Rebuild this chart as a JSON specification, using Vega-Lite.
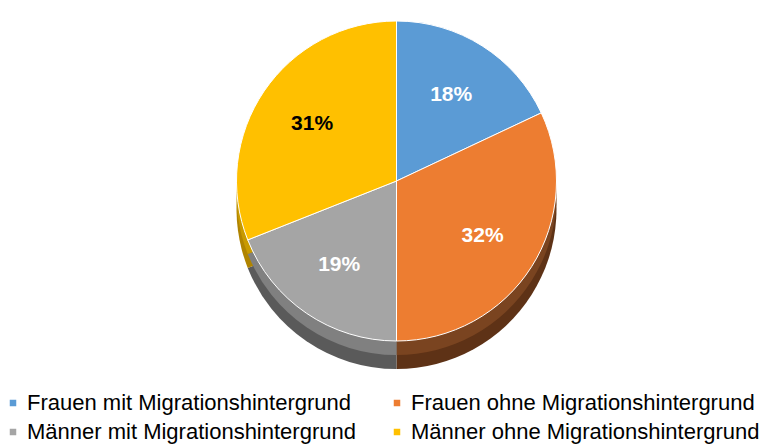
{
  "$schema": "https://vega.github.io/schema/vega-lite/v6.json",
  "width": 763,
  "height": 445,
  "autosize": {"type": "fit", "contains": "padding"},
  "padding": {"left": 2, "right": 0, "top": 4, "bottom": 2},
  "background": "white",
  "data": {
    "values": [
      {"cat": "Frauen mit Migrationshintergrund", "value": 18, "label": "18%"},
      {"cat": "Frauen ohne Migrationshintergrund", "value": 32, "label": "32%"},
      {"cat": "Männer mit Migrationshintergrund", "value": 19, "label": "19%"},
      {"cat": "Männer ohne Migrationshintergrund", "value": 31, "label": "31%"}
    ]
  },
  "encoding": {
    "theta": {"field": "value", "type": "quantitative", "stack": true},
    "order": {"field": "cat", "type": "nominal", "sort": "ascending"}
  },
  "layer": [
    {
      "mark": {"type": "arc", "radius": 160, "yOffset": 18, "xOffset": 14},
      "encoding": {
        "color": {
          "field": "cat", "type": "nominal",
          "scale": {"range": ["#2F5C85", "#5E3216", "#5A5A5A", "#B08400"]},
          "legend": null
        }
      }
    },
    {
      "mark": {"type": "arc", "radius": 160, "yOffset": 4, "xOffset": 14},
      "encoding": {
        "color": {
          "field": "cat", "type": "nominal",
          "scale": {"range": ["#3A6E9C", "#7A4420", "#808080", "#C89A00"]},
          "legend": null
        }
      }
    },
    {
      "mark": {"type": "arc", "radius": 160, "yOffset": -10, "xOffset": 14, "stroke": "white", "strokeWidth": 1},
      "encoding": {
        "color": {
          "field": "cat", "type": "nominal",
          "scale": {"range": ["#5B9BD5", "#ED7D31", "#A5A5A5", "#FFC000"]},
          "legend": {"title": null}
        }
      }
    },
    {
      "mark": {"type": "text", "radius": 102, "yOffset": -10, "xOffset": 14, "fontSize": 21, "fontWeight": "bold", "font": "Liberation Sans"},
      "encoding": {
        "text": {"field": "label", "type": "nominal"},
        "color": {
          "condition": {"test": "datum.cat === 'Männer ohne Migrationshintergrund'", "value": "black"},
          "value": "white"
        }
      }
    }
  ],
  "resolve": {"scale": {"color": "independent"}},
  "config": {
    "view": {"stroke": null},
    "legend": {
      "orient": "bottom",
      "columns": 2,
      "direction": "horizontal",
      "symbolType": "square",
      "symbolSize": 64,
      "labelFontSize": 22,
      "labelFont": "Liberation Sans",
      "labelColor": "#000000",
      "labelLimit": 420,
      "labelOffset": 3,
      "columnPadding": 30,
      "rowPadding": 7,
      "padding": 0,
      "offset": 14
    }
  }
}
